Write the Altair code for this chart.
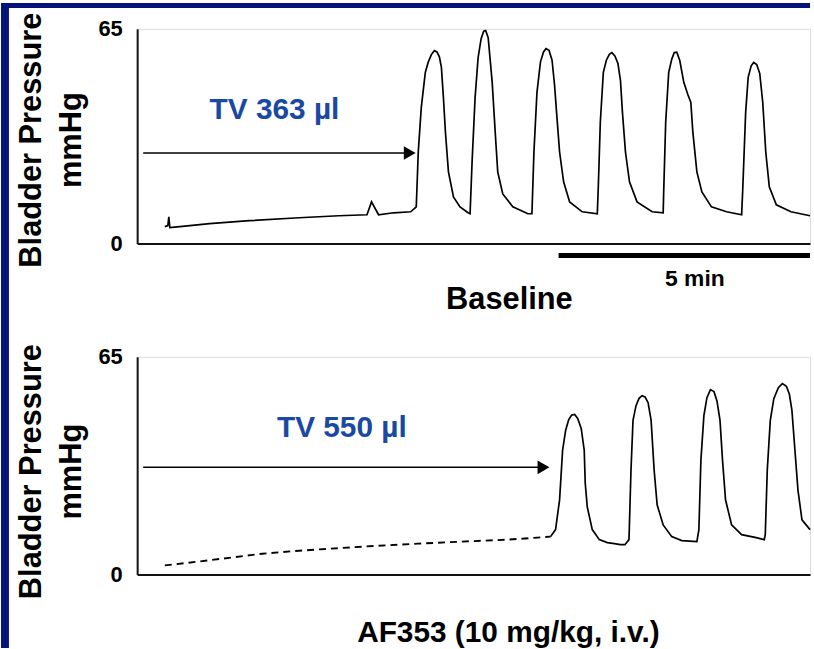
import altair as alt
import pandas as pd

# ---------------- data (time in min, pressure in mmHg) ----------------
top_t = [0.55, 0.61, 0.63, 0.65, 0.85, 1.44, 2.23, 3.22, 4.01, 4.57, 4.66, 4.80, 5.10, 5.44,
         5.55, 5.59, 5.65, 5.73, 5.79, 5.85, 5.91, 5.96, 6.01, 6.05, 6.09, 6.13, 6.19, 6.29, 6.42, 6.58,
         6.62, 6.66, 6.72, 6.78, 6.84, 6.89, 6.93, 6.98, 7.06, 7.12, 7.17, 7.27, 7.47, 7.77,
         7.85, 7.89, 7.95, 8.02, 8.08, 8.13, 8.19, 8.25, 8.30, 8.34, 8.40, 8.48, 8.60, 8.85, 9.15,
         9.17, 9.21, 9.27, 9.33, 9.39, 9.44, 9.50, 9.56, 9.61, 9.65, 9.71, 9.79, 9.94, 10.24, 10.46,
         10.47, 10.51, 10.57, 10.63, 10.68, 10.73, 10.79, 10.87, 10.95, 11.01, 11.05, 11.13, 11.23,
         11.42, 11.72, 12.02, 12.04, 12.10, 12.15, 12.21, 12.26, 12.32, 12.38, 12.44, 12.50, 12.57, 12.71,
         13.00, 13.38]
top_p = [5.1, 5.4, 8.1, 4.8, 5.1, 6.0, 6.9, 7.8, 8.4, 8.7, 12.6, 8.7, 9.3, 9.6,
         11.1, 27.7, 41.2, 51.8, 55.0, 57.2, 58.4, 58.0, 56.5, 53.3, 44.2, 33.7, 21.7, 14.1, 11.1, 9.3,
         9.0, 24.7, 44.2, 56.3, 62.0, 64.3, 64.5, 62.3, 48.8, 33.7, 21.7, 15.0, 11.1, 9.0,
         9.0, 27.7, 45.7, 55.0, 58.0, 59.0, 58.5, 55.5, 48.0, 39.7, 27.7, 18.7, 12.6, 9.6, 9.0,
         17.2, 36.7, 51.8, 55.5, 57.3, 57.8, 56.8, 54.5, 49.5, 39.7, 27.7, 18.7, 12.6, 9.6, 9.3,
         15.6, 36.7, 51.8, 55.8, 57.8, 57.9, 55.4, 48.8, 45.1, 42.7, 33.7, 21.7, 15.6,
         11.1, 9.6, 8.7, 15.6, 39.7, 50.3, 53.8, 54.8, 54.2, 51.5, 42.7, 27.7, 17.2, 11.7,
         9.6, 8.4]

bot_base_t = [0.55, 1.25, 2.49, 3.22, 4.47, 5.59, 6.44, 7.37, 7.96, 8.22]
bot_base_p = [2.7, 3.9, 6.2, 7.1, 8.3, 9.2, 9.8, 10.4, 11.0, 11.3]

bot_t = [8.22, 8.32, 8.40, 8.46, 8.52, 8.58, 8.64, 8.70, 8.76, 8.83, 8.89, 8.91, 8.95, 9.05,
         9.19, 9.35, 9.49, 9.61, 9.70, 9.78, 9.82, 9.86, 9.92, 9.98, 10.04, 10.10, 10.16, 10.22, 10.28,
         10.34, 10.46, 10.63, 10.83, 11.13, 11.17, 11.21, 11.27, 11.33, 11.40, 11.47, 11.53, 11.59,
         11.64, 11.70, 11.82, 12.02, 12.31, 12.47, 12.49, 12.53, 12.59, 12.66, 12.75, 12.83, 12.91, 12.97,
         13.02, 13.08, 13.14, 13.22, 13.38]
bot_p = [11.3, 13.4, 22.3, 37.1, 43.0, 46.2, 47.6, 47.8, 46.6, 43.6, 37.1, 27.3, 20.2, 13.4,
         10.4, 9.5, 9.2, 8.9, 8.9, 10.4, 31.2, 46.0, 50.4, 52.6, 53.4, 53.0, 51.3, 46.0, 31.2,
         20.8, 14.8, 11.3, 10.1, 9.8, 13.4, 34.1, 47.5, 52.8, 55.2, 54.6, 51.8, 46.0,
         34.1, 22.3, 14.8, 11.9, 11.0, 10.4, 11.9, 31.2, 46.0, 52.5, 55.8, 57.0, 56.2, 53.8,
         49.0, 37.1, 25.2, 16.3, 13.4]

TMAX = 13.38
PMAX = 65
y_ticks = [0, 65]

top_arrow = {"t": 0.12, "t2": 5.33, "p": 27.4, "head": 5.42}
bot_arrow = {"t": 0.12, "t2": 7.98, "p": 32.0, "head": 8.08}
top_label = {"t": 2.73, "p": 40.3, "label": "TV 363 µl"}
bot_label = {"t": 4.07, "p": 43.6, "label": "TV 550 µl"}
scale_bar = {"t": 8.38, "t2": 13.38, "p": -3.6, "label": "5 min", "lt": 11.09, "lp": -10.8}

NAVY = "#06137A"
BLUE = "#1A49A3"
FONT = "Liberation Sans"

xs = alt.Scale(domain=[0, TMAX], nice=False, zero=False)
ys = alt.Scale(domain=[0, PMAX], nice=False)


def y_axis(title_y):
    return alt.Axis(values=y_ticks, ticks=False, grid=False, labelFontSize=22,
                    labelFontWeight="bold", labelColor="black", labelPadding=15,
                    labelFont=FONT, domainColor="#111111", domainWidth=2,
                    title=["Bladder Pressure", "mmHg"], titleFont=FONT, titleFontSize=31,
                    titleFontWeight="bold", titleLineHeight=40, titleColor="black",
                    titleX=-106, titleY=title_y, titleAngle=270, titleAlign="center",
                    titleBaseline="middle")


def x_axis(title, tx, ty, size):
    return alt.Axis(labels=False, ticks=False, grid=False, domainColor="#111111",
                    domainWidth=2, title=title, titleFont=FONT, titleFontSize=size,
                    titleFontWeight="bold", titleColor="black", titleX=tx, titleY=ty,
                    titleAngle=0, titleAlign="center", titleBaseline="middle")


def panel(t, p, xa, ya, arrow, label, base=None):
    layers = []
    df = pd.DataFrame({"t": t, "p": p})
    layers.append(alt.Chart(df).mark_line(color="black", strokeWidth=1.7).encode(
        x=alt.X("t:Q", scale=xs, axis=xa), y=alt.Y("p:Q", scale=ys, axis=ya)))
    if base is not None:
        bdf = pd.DataFrame({"t": base[0], "p": base[1]})
        layers.append(alt.Chart(bdf).mark_line(color="black", strokeWidth=1.9,
                                               strokeDash=[7, 5]).encode(
            x=alt.X("t:Q", scale=xs), y=alt.Y("p:Q", scale=ys)))
    adf = pd.DataFrame([arrow])
    layers.append(alt.Chart(adf).mark_rule(color="black", strokeWidth=1.5).encode(
        x=alt.X("t:Q", scale=xs), x2="t2:Q", y=alt.Y("p:Q", scale=ys)))
    layers.append(alt.Chart(adf).mark_point(shape="triangle-right", filled=True, size=190,
                                            color="black", opacity=1).encode(
        x=alt.X("head:Q", scale=xs), y=alt.Y("p:Q", scale=ys)))
    ldf = pd.DataFrame([label])
    layers.append(alt.Chart(ldf).mark_text(font=FONT, fontSize=30, fontWeight="bold",
                                           color=BLUE, align="center",
                                           baseline="middle").encode(
        x=alt.X("t:Q", scale=xs), y=alt.Y("p:Q", scale=ys), text="label:N"))
    return layers


top_layers = panel(top_t, top_p, x_axis("Baseline", 374, 56, 31), y_axis(111.5),
                   top_arrow, top_label)
sdf = pd.DataFrame([scale_bar])
top_layers.append(alt.Chart(sdf).mark_rule(color="black", strokeWidth=5).encode(
    x=alt.X("t:Q", scale=xs), x2="t2:Q", y=alt.Y("p:Q", scale=ys)))
top_layers.append(alt.Chart(sdf).mark_text(font=FONT, fontSize=23, fontWeight="bold",
                                           color="black", align="center",
                                           baseline="middle").encode(
    x=alt.X("lt:Q", scale=xs), y=alt.Y("lp:Q", scale=ys), text="label:N"))
# navy slide frame (left and top strips), drawn as unstroked rects
one = pd.DataFrame({"k": [0]})
top_layers.append(alt.Chart(one).mark_rect(color=NAVY).encode(
    x=alt.value(-137), x2=alt.value(-129), y=alt.value(-26), y2=alt.value(623)))
top_layers.append(alt.Chart(one).mark_rect(color=NAVY).encode(
    x=alt.value(-137), x2=alt.value(677), y=alt.value(-26), y2=alt.value(-21)))

top = alt.layer(*top_layers).properties(width=677, height=216)

bot_layers = panel(bot_t, bot_p, x_axis("AF353 (10 mg/kg, i.v.)", 373, 58, 30),
                   y_axis(115), bot_arrow, bot_label, base=(bot_base_t, bot_base_p))
bottom = alt.layer(*bot_layers).properties(width=677, height=219)

chart = alt.vconcat(top, bottom, spacing=114, bounds="flush").properties(
    padding=0, background="white"
).configure_view(strokeWidth=0).configure(font=FONT)

chart.save("out.html", embed_options={"renderer": "svg", "actions": False})
